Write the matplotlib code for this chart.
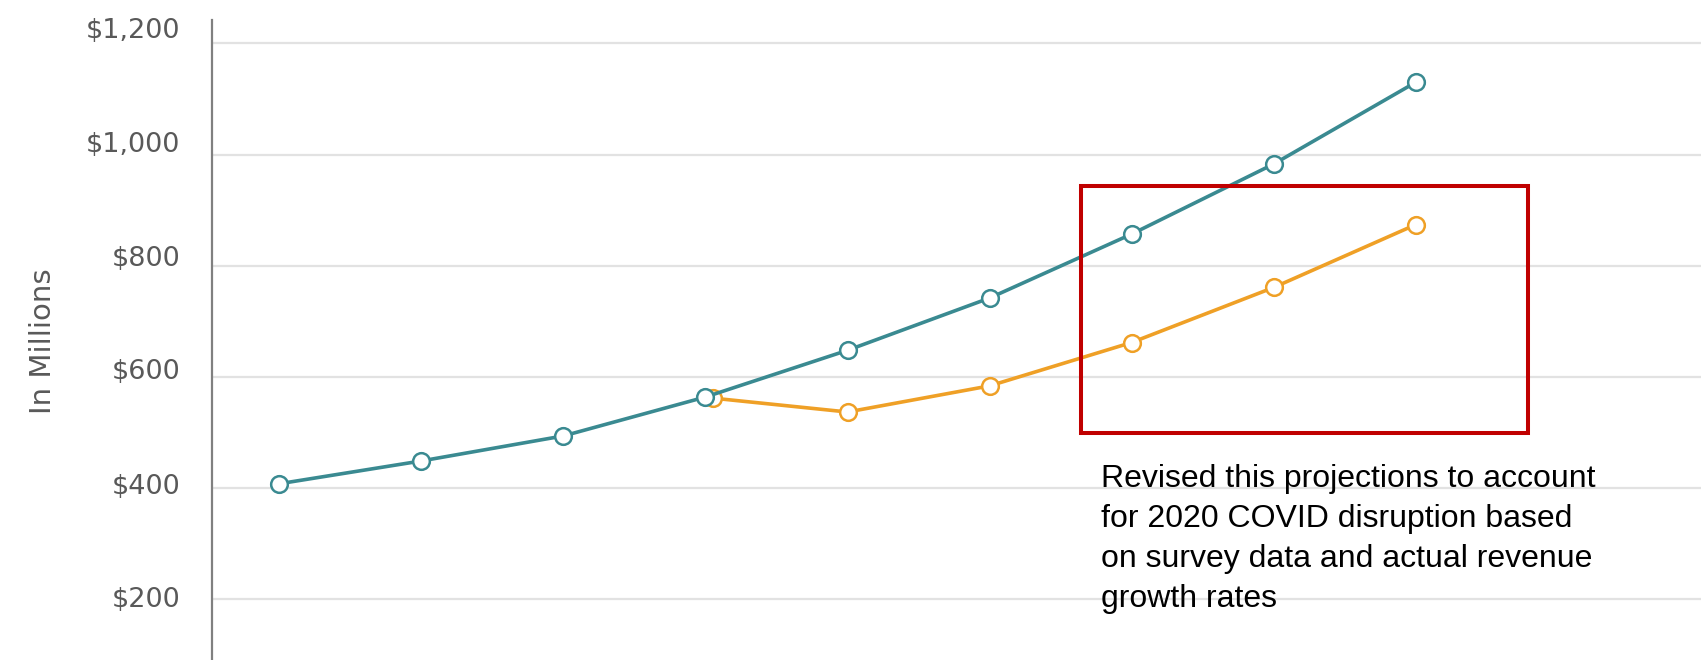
import matplotlib
matplotlib.use("Agg")
import matplotlib.pyplot as plt
import matplotlib.transforms as mtransforms
from matplotlib.patches import Rectangle

# data (in millions), one point per year, positions by index
teal_x = [0, 1, 2, 3, 4, 5, 6, 7, 8]
teal_vals = [408, 449, 494, 564, 648, 742, 857, 983, 1130]

orange_x = [3.05, 4, 5, 6, 7, 8]
orange_vals = [562, 537, 584, 662, 761, 874]

yticks = [200, 400, 600, 800, 1000, 1200]
ytick_labels = ["$200", "$400", "$600", "$800", "$1,000", "$1,200"]

note = ("Revised this projections to account\n"
        "for 2020 COVID disruption based\n"
        "on survey data and actual revenue\n"
        "growth rates")

TEAL = "#3a8a91"
ORANGE = "#efa026"

fig = plt.figure(figsize=(17.01, 6.6), dpi=100)
ax = fig.add_axes([0.1248, 0.0, 0.8752, 0.9697])

# orange first so the teal marker sits on top where they meet
ax.plot(orange_x, orange_vals, color=ORANGE, lw=2.6, marker="o", ms=12,
        mfc="white", mec=ORANGE, mew=1.8, zorder=3)
ax.plot(teal_x, teal_vals, color=TEAL, lw=2.6, marker="o", ms=12,
        mfc="white", mec=TEAL, mew=1.8, zorder=4)

ax.set_xlim(-0.472, 10.008)
ax.set_ylim(91, 1242)

ax.set_yticks(yticks)
ax.set_yticklabels(ytick_labels)
ax.set_xticks([])
ax.tick_params(axis="y", length=0, pad=23, labelsize=19.5, labelcolor="#595959")
ax.grid(axis="y", color="#e2e2e2", lw=1.6, zorder=0)
ax.set_axisbelow(True)

# labels in the original drift a little above their gridlines
shift_px = [2, 4, 8, 10, 13, 15]
for lab, s in zip(ax.get_yticklabels(), shift_px):
    off = mtransforms.ScaledTranslation(0, s / 100, fig.dpi_scale_trans)
    lab.set_transform(lab.get_transform() + off)

for side in ["top", "right", "bottom"]:
    ax.spines[side].set_visible(False)
ax.spines["left"].set_color("#808080")
ax.spines["left"].set_linewidth(1.6)

fig.text(43 / 1701, 1 - 341 / 660, "In Millions", rotation=90, ha="center",
         va="center", fontsize=21, color="#595959")

# red highlight box
ax.add_patch(Rectangle((5.644, 498.5), 8.790 - 5.644, 943.5 - 498.5,
                       fill=False, edgecolor="#c00000", lw=2.9, zorder=6,
                       clip_on=False))

# baseline of the last line
fig.text(1100.7 / 1701, 1 - 607 / 660, note, ha="left", va="baseline",
         fontsize=23, family="Liberation Sans", color="black", linespacing=1.43)

fig.savefig("out.png", dpi=100)
